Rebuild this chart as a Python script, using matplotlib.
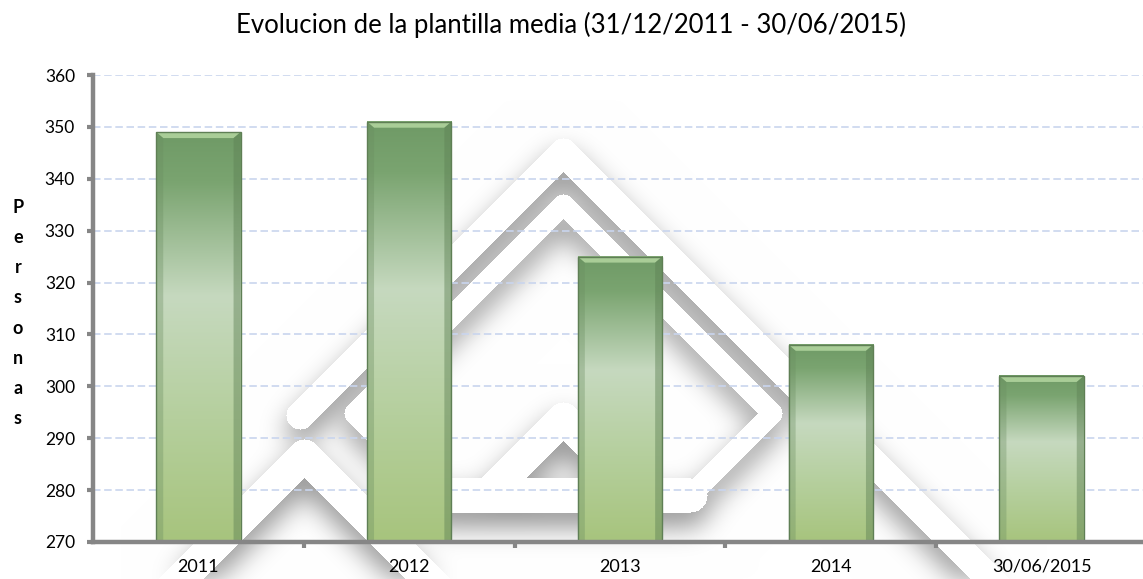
import numpy as np
import matplotlib
matplotlib.use("Agg")
import matplotlib.pyplot as plt
from matplotlib.colors import LinearSegmentedColormap

# ---------------- data ----------------
categories = ["2011", "2012", "2013", "2014", "30/06/2015"]
values = [349, 351, 325, 308, 302]
y_ticks = [270, 280, 290, 300, 310, 320, 330, 340, 350, 360]
title = "Evolucion de la plantilla media (31/12/2011 - 30/06/2015)"
ylabel_letters = list("Personas")

W, H = 1143, 579
FONT = ["Lato", "DejaVu Sans"]
plt.rcParams["font.family"] = FONT

fig = plt.figure(figsize=(W / 100, H / 100), dpi=100)
fig.patch.set_facecolor("white")

# ---------------- decorative watermark (background logo) ----------------
yy, xx = np.mgrid[0:H, 0:W].astype(float)


def seg_dist(ax_, ay, bx, by):
    dx, dy = bx - ax_, by - ay
    t = ((xx - ax_) * dx + (yy - ay) * dy) / (dx * dx + dy * dy)
    t = np.clip(t, 0, 1)
    px, py = ax_ + t * dx, ay + t * dy
    return np.hypot(xx - px, yy - py)


bands = [
    # roof chevron
    ([(300, 415), (563, 152), (1200, 789)], 14),
    # diamond ring sides
    ([(563, 204), (772, 413), (690, 495)], 10),
    ([(436, 495), (354, 413), (563, 204)], 10),
    # diamond bottom
    ([(690, 495), (436, 495)], 17),
    # small inner chevron
    ([(491, 490), (563, 418), (635, 490)], 16),
    # left chevron
    ([(150, 609), (304, 455), (460, 611)], 16),
]
M = np.zeros((H, W), dtype=bool)
for pts, h in bands:
    for (a1, b1), (a2, b2) in zip(pts[:-1], pts[1:]):
        M |= seg_dist(a1, b1, a2, b2) <= h

shift = 14
Ms = np.zeros((H, W))
Ms[shift:, :] = M[:-shift, :]
sig = 13
kx = np.arange(-4 * sig, 4 * sig + 1)
k = np.exp(-kx ** 2 / (2 * sig ** 2))
k /= k.sum()
S = np.apply_along_axis(lambda r: np.convolve(r, k, mode="same"), 1, Ms)
S = np.apply_along_axis(lambda c: np.convolve(c, k, mode="same"), 0, S)
I = 1 - 0.42 * S
I[M] = 1.0
I = np.clip(I, 0, 1)
rgb = np.dstack([I, I, I])

bg = fig.add_axes([0, 0, 1, 1], zorder=0)
bg.imshow(rgb, extent=(0, W, H, 0), aspect="auto", interpolation="bilinear")
bg.set_xlim(0, W)
bg.set_ylim(H, 0)
bg.axis("off")

# ---------------- main axes ----------------
left_px, right_px, top_px, bot_px = 93, 1147, 75, 542
ax = fig.add_axes([left_px / W, 1 - bot_px / H, (right_px - left_px) / W, (bot_px - top_px) / H], zorder=1)
ax.patch.set_alpha(0)

x = np.arange(len(categories))
bar_w = 0.40
bars = ax.bar(x, [v - 270 for v in values], bottom=270, width=bar_w,
              facecolor="none", edgecolor="#5f7f55", linewidth=1.0, zorder=4)

cmap = LinearSegmentedColormap.from_list(
    "barg",
    [(0.0, "#6f9a66"), (0.12, "#7aa470"), (0.40, "#c6d9bf"), (0.70, "#b5cf9d"), (1.0, "#a7c47d")],
)
grad = np.linspace(0, 1, 256).reshape(-1, 1)
px_per_unit = (bot_px - top_px) / (y_ticks[-1] - y_ticks[0])
for rect in bars:
    x0, y0 = rect.get_x(), rect.get_y()
    w, hgt = rect.get_width(), rect.get_height()
    ax.imshow(grad, cmap=cmap, extent=(x0, x0 + w, y0, y0 + hgt), origin="upper",
              aspect="auto", zorder=3, interpolation="bilinear")
    # bevel at top
    bev = 6 / px_per_unit
    dxb = 7 / ((right_px - left_px) / 5)
    top = y0 + hgt
    ax.fill([x0, x0 + w, x0 + w - dxb, x0 + dxb], [top, top, top - bev, top - bev],
            color="#a9cd97", zorder=3.5, linewidth=0)
    ax.fill([x0, x0 + dxb, x0 + dxb, x0], [top, top - bev, y0, y0],
            color="#6a8d60", alpha=0.35, zorder=3.5, linewidth=0)
    ax.fill([x0 + w, x0 + w - dxb, x0 + w - dxb, x0 + w], [top, top - bev, y0, y0],
            color="#5d8054", alpha=0.45, zorder=3.5, linewidth=0)

ax.set_xlim(-0.5, len(categories) - 0.5)
ax.set_ylim(y_ticks[0], y_ticks[-1])
ax.set_yticks(y_ticks)
ax.set_yticklabels([str(t) for t in y_ticks], fontsize=12.5, color="black")

ax.set_xticks(x)
ax.set_xticklabels(categories, fontsize=13, color="black")
ax.tick_params(axis="x", which="major", length=0, pad=12)
ax.set_xticks(np.arange(len(categories) - 1) + 0.5, minor=True)
ax.tick_params(axis="x", which="minor", length=4, width=3, color="#868686", direction="out")
ax.tick_params(axis="y", which="major", length=4, width=3, color="#868686", direction="out", pad=9)

ax.grid(axis="y", color="#c9d5ee", linestyle=(0, (4.5, 2.2)), linewidth=1.2, zorder=1)
ax.set_axisbelow(True)
for s in ["top", "right"]:
    ax.spines[s].set_visible(False)
for s in ["left", "bottom"]:
    ax.spines[s].set_color("#868686")
    ax.spines[s].set_linewidth(3.2)
    ax.spines[s].set_zorder(5)

# title
fig.text(0.5, 1 - 33 / H, title, ha="center", va="baseline", fontsize=18.5, color="black")

# vertical stacked y label
fig.text(18 / W, 1 - 313 / H, "\n".join(ylabel_letters), ha="center", va="center",
         fontsize=13, fontweight="bold", linespacing=1.93, color="black")

fig.savefig("out.png", dpi=100, facecolor="white")
